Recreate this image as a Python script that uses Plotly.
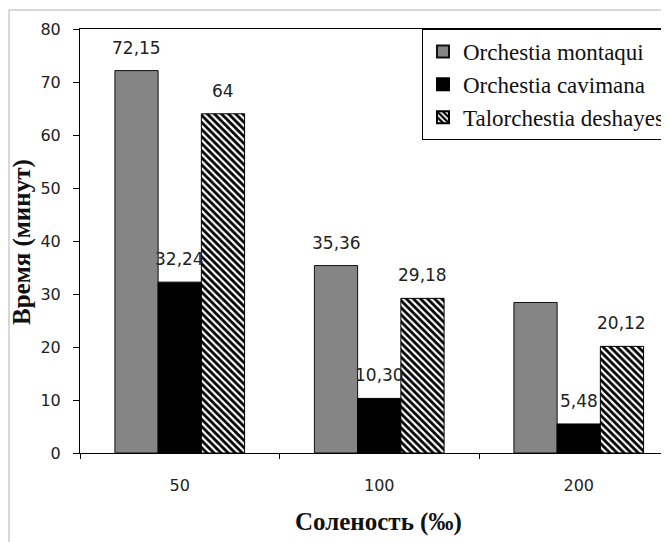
import plotly.graph_objects as go

categories = ["50", "100", "200"]
series_names = ["Orchestia montaqui", "Orchestia cavimana", "Talorchestia deshayesii"]
montaqui = [72.15, 35.36, 28.4]
cavimana = [32.24, 10.30, 5.48]
deshayesii = [64, 29.18, 20.12]
montaqui_labels = ["72,15", "35,36", ""]
cavimana_labels = ["32,24", "10,30", "5,48"]
deshayesii_labels = ["64", "29,18", "20,12"]
y_ticks = [0, 10, 20, 30, 40, 50, 60, 70, 80]

# the page body adds an 8px offset; layout numbers below are in figure pixels
OFF = 8
W, H = 669, 542
ML, MT, MR = 80 - OFF, 29 - OFF, 0
MB = H - (453 - OFF)
PW = W - ML - MR
PH = H - MT - MB

fig = go.Figure()
fig.add_trace(go.Bar(
    x=categories, y=montaqui, name=series_names[0],
    marker=dict(color="#858585", line=dict(color="#111111", width=1)),
))
fig.add_trace(go.Bar(
    x=categories, y=cavimana, name=series_names[1],
    marker=dict(color="#000000", line=dict(color="#000000", width=1)),
))
fig.add_trace(go.Bar(
    x=categories, y=deshayesii, name=series_names[2],
    marker=dict(color="#000000", line=dict(color="#000000", width=1),
                pattern=dict(shape="\\", fgcolor="#000000", bgcolor="#ffffff",
                             size=5, solidity=0.55, fillmode="replace")),
))

cat_px = 199.5
bar_px = cat_px * (1 - 0.35) / 3
label_font = dict(family="DejaVu Sans", size=17, color="#222222")
for k, (vals, labs) in enumerate([(montaqui, montaqui_labels),
                                  (cavimana, cavimana_labels),
                                  (deshayesii, deshayesii_labels)]):
    for i, (v, t) in enumerate(zip(vals, labs)):
        if not t:
            continue
        fig.add_annotation(x=i, y=v, xref="x", yref="y", text=t, showarrow=False,
                           xshift=(k - 1) * bar_px, yshift=23,
                           yanchor="middle", font=label_font)

fig.add_annotation(x=(378 - OFF - ML) / PW, y=-(522 - OFF - MT - PH) / PH,
                   xref="paper", yref="paper",
                   text="<b>Соленость (‰)</b>", showarrow=False, yanchor="middle",
                   font=dict(family="Liberation Serif", size=25, color="#111111"))
fig.add_annotation(x=-(ML - (22 - OFF)) / PW, y=(453 - 242) / PH, xref="paper", yref="paper",
                   text="<b>Время (минут)</b>", showarrow=False, textangle=-90,
                   xanchor="center", yanchor="middle",
                   font=dict(family="Liberation Serif", size=25, color="#111111"))

# outer chart frame
fx = -(ML - (9 - OFF)) / PW
fy = 1 + (MT - (10 - OFF)) / PH
fig.add_shape(type="line", xref="paper", yref="paper",
              x0=fx, x1=1.2, y0=fy, y1=fy, line=dict(color="#b0b0b0", width=1))
fig.add_shape(type="line", xref="paper", yref="paper",
              x0=fx, x1=fx, y0=fy, y1=-0.5, line=dict(color="#b0b0b0", width=1))

fig.update_layout(
    width=W, height=H,
    margin=dict(l=ML, r=MR, t=MT, b=MB, pad=0, autoexpand=False),
    paper_bgcolor="white", plot_bgcolor="white",
    barmode="group", bargap=0.35, bargroupgap=0,
    font=dict(family="DejaVu Sans", size=16, color="#222222"),
    showlegend=True,
    legend=dict(x=(422 - OFF - ML) / PW, y=1.0, xanchor="left", yanchor="top",
                bgcolor="white", bordercolor="#000000", borderwidth=1,
                font=dict(family="Liberation Serif", size=23, color="#111111"),
                itemsizing="constant", tracegroupgap=0),
    xaxis=dict(type="category", range=[-0.5, -0.5 + PW / cat_px],
               showline=True, linecolor="#000000", linewidth=1, mirror=True,
               ticks="outside", tickson="boundaries", ticklen=5, tickcolor="#000000",
               ticklabelstandoff=18, showgrid=False, zeroline=False),
    yaxis=dict(range=[0, 80], tickvals=y_ticks,
               showline=True, linecolor="#000000", linewidth=1,
               ticks="outside", ticklen=6, tickcolor="#000000",
               ticklabelstandoff=9, showgrid=False, zeroline=False),
)

fig.write_html("out.html")
